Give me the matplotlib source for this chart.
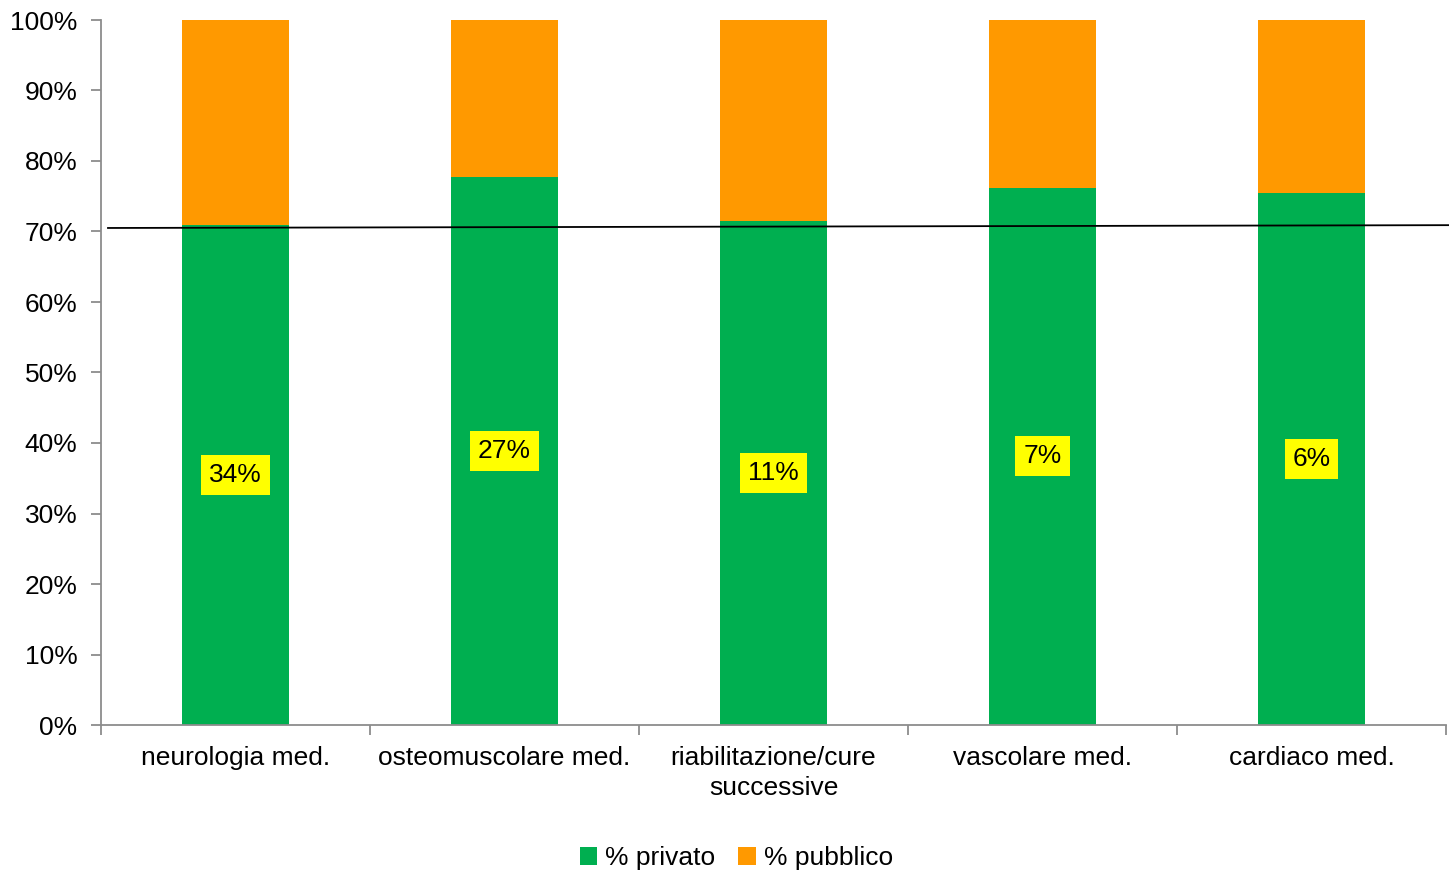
import matplotlib
matplotlib.use("Agg")
import matplotlib.pyplot as plt
import numpy as np

plt.rcParams['font.family'] = ['Liberation Sans', 'DejaVu Sans']

categories = ["neurologia med.", "osteomuscolare med.", "riabilitazione/cure\nsuccessive",
              "vascolare med.", "cardiaco med."]
privato = [70.9, 77.7, 71.5, 76.2, 75.5]
pubblico = [100 - p for p in privato]
share_labels = ["34%", "27%", "11%", "7%", "6%"]
# reference line (left / right end, in %)
ref_line = [70.5, 70.9]

green = "#00AF50"
orange = "#FF9900"
fs = 19

fig = plt.figure(figsize=(14.49, 8.72), dpi=100)
ax = fig.add_axes([101/1449, 1 - 725/872, 1345/1449, 705/872])

x = np.arange(len(categories))
ax.bar(x, privato, width=0.4, color=green, label="% privato")
ax.bar(x, pubblico, width=0.4, bottom=privato, color=orange, label="% pubblico")

for xi, p, lab in zip(x, privato, share_labels):
    ax.text(xi, p / 2, lab, ha="center", va="center", fontsize=fs,
            bbox=dict(boxstyle="square,pad=0.3", fc="#FFFF00", ec="none"))

# sloped black line across the chart
ax.plot([(108 - 101) / 1345, (1449 - 101) / 1345], [r / 100 for r in ref_line],
        color="black", lw=1.3, transform=ax.transAxes, clip_on=False)

ax.set_xlim(-0.5, len(categories) - 0.5)
ax.set_ylim(0, 100)
ax.set_yticks(np.arange(0, 101, 10))
ax.set_yticklabels([f"{v}%" for v in range(0, 101, 10)], fontsize=fs)
ax.set_xticks(x)
ax.set_xticklabels(categories, fontsize=fs, linespacing=1.3)
ax.tick_params(axis="x", length=0, pad=15)
ax.set_xticks(np.arange(-0.5, len(categories), 1), minor=True)
ax.tick_params(axis="x", which="minor", length=7, color="#8c8c8c", width=1.3)
ax.tick_params(axis="y", length=7, color="#8c8c8c", width=1.3, pad=10)

for s in ["top", "right"]:
    ax.spines[s].set_visible(False)
for s in ["left", "bottom"]:
    ax.spines[s].set_color("#8c8c8c")
    ax.spines[s].set_linewidth(1.3)

fig.legend(loc="center", bbox_to_anchor=(0.508, 1 - 858/872), ncol=2, frameon=False,
           fontsize=fs, handlelength=0.65, handleheight=0.65, handletextpad=0.3,
           columnspacing=0.9)

fig.savefig("out.png", dpi=100)
